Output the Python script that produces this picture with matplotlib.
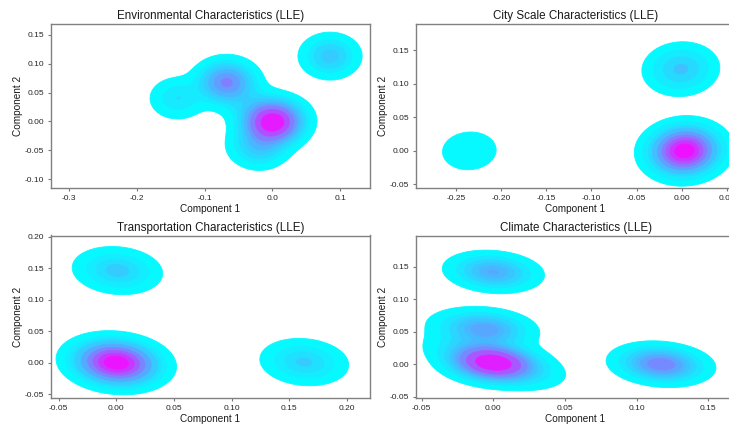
import numpy as np
import matplotlib
matplotlib.use("Agg")
import matplotlib.pyplot as plt

plt.rcParams['font.family'] = ['Liberation Sans', 'DejaVu Sans']

# ---- data: cluster centres of the LLE embeddings and their relative weights ----
env_x = [0.000, -0.018, -0.028, -0.068, -0.140, 0.085, 0.020, -0.035]
env_y = [-0.001, -0.045, -0.038, 0.068, 0.040, 0.113, 0.004, 0.030]
env_w = [0.40, 0.07, 0.03, 0.20, 0.06, 0.10, 0.03, 0.04]

city_x = [0.003, -0.001, -0.235]
city_y = [0.000, 0.122, 0.000]
city_w = [0.78, 0.17, 0.05]

trans_x = [0.000, 0.001, 0.163]
trans_y = [0.000, 0.146, 0.001]
trans_w = [0.73, 0.14, 0.13]

clim_x = [0.000, -0.003, -0.020, -0.021, 0.025, 0.000, 0.117]
clim_y = [0.002, 0.054, 0.058, 0.025, -0.015, 0.142, 0.000]
clim_w = [0.40, 0.13, 0.035, 0.045, 0.035, 0.14, 0.20]

titles = ["Environmental Characteristics (LLE)", "City Scale Characteristics (LLE)",
          "Transportation Characteristics (LLE)", "Climate Characteristics (LLE)"]

xticks = [[-0.3, -0.2, -0.1, 0.0, 0.1],
          [-0.25, -0.20, -0.15, -0.10, -0.05, 0.00, 0.05],
          [-0.05, 0.00, 0.05, 0.10, 0.15, 0.20],
          [-0.05, 0.00, 0.05, 0.10, 0.15]]
yticks = [[-0.10, -0.05, 0.00, 0.05, 0.10, 0.15],
          [-0.05, 0.00, 0.05, 0.10, 0.15],
          [-0.05, 0.00, 0.05, 0.10, 0.15, 0.20],
          [-0.05, 0.00, 0.05, 0.10, 0.15]]
xfmt = ["%.1f", "%.2f", "%.2f", "%.2f"]

panels = [
    dict(x=env_x, y=env_y, w=env_w, s=(0.024, 0.021), rho=0.0,
         xlim=(-0.327, 0.144), ylim=(-0.1145, 0.168)),
    dict(x=city_x, y=city_y, w=city_w, s=(0.020, 0.019), rho=0.05,
         xlim=(-0.294, 0.0589), ylim=(-0.055, 0.189)),
    dict(x=trans_x, y=trans_y, w=trans_w, s=(0.019, 0.0185), rho=-0.12,
         xlim=(-0.0566, 0.22), ylim=(-0.0554, 0.2016)),
    dict(x=clim_x, y=clim_y, w=clim_w, s=(0.0165, 0.0155), rho=-0.15,
         xlim=(-0.054, 0.1686), ylim=(-0.0515, 0.198)),
]

positions = [(51, 24.3, 319, 163.4), (416, 24.3, 319, 163.4),
             (51, 235.5, 319, 162.2), (416, 235.5, 319, 162.2)]

W, H = 729, 426
fig = plt.figure(figsize=(W / 100, H / 100), dpi=100)


def density(p, xx, yy):
    sx, sy = p['s']
    r = p['rho']
    z = np.zeros_like(xx)
    for cx, cy, w in zip(p['x'], p['y'], p['w']):
        dx = (xx - cx) / sx
        dy = (yy - cy) / sy
        q = (dx ** 2 - 2 * r * dx * dy + dy ** 2) / (1 - r ** 2)
        z += w * np.exp(-0.5 * q) / (2 * np.pi * sx * sy * np.sqrt(1 - r ** 2))
    return z


def iso_levels(z, thresh=0.05, n=10):
    props = np.linspace(thresh, 1, n)
    vals = np.sort(z.ravel())[::-1]
    cum = np.cumsum(vals) / vals.sum()
    idx = np.searchsorted(cum, 1 - props)
    return np.take(vals, idx, mode="clip")


for i, p in enumerate(panels):
    l, t, w, h = positions[i]
    ax = fig.add_axes([l / W, 1 - (t + h) / H, w / W, h / H])
    gx = np.linspace(min(p['x']) - 0.1, max(p['x']) + 0.1, 400)
    gy = np.linspace(min(p['y']) - 0.1, max(p['y']) + 0.1, 400)
    xx, yy = np.meshgrid(gx, gy)
    z = density(p, xx, yy)
    lev = iso_levels(z)
    cs = ax.contourf(xx, yy, z, levels=lev, cmap='cool', antialiased=True)
    cs.set_edgecolor('face')
    cs.set_linewidth(0.6)
    ax.set_xlim(*p['xlim'])
    ax.set_ylim(*p['ylim'])
    ax.set_xticks(xticks[i])
    ax.set_xticklabels([xfmt[i] % v for v in xticks[i]])
    ax.set_yticks(yticks[i])
    ax.set_yticklabels(["%.2f" % v for v in yticks[i]])
    ax.set_title(titles[i], fontsize=8.4, pad=3.5, color='#1a1a1a')
    ax.set_xlabel("Component 1", fontsize=7.2, labelpad=1.5, color='#1a1a1a')
    ax.set_ylabel("Component 2", fontsize=7.2, labelpad=1.5, color='#1a1a1a')
    ax.tick_params(labelsize=6.0, length=2.5, width=0.8, color='#777777',
                   labelcolor='#262626', pad=2.5)
    for sp in ax.spines.values():
        sp.set_color('#808080')
        sp.set_linewidth(1.0)

fig.savefig("out.png", dpi=100)
